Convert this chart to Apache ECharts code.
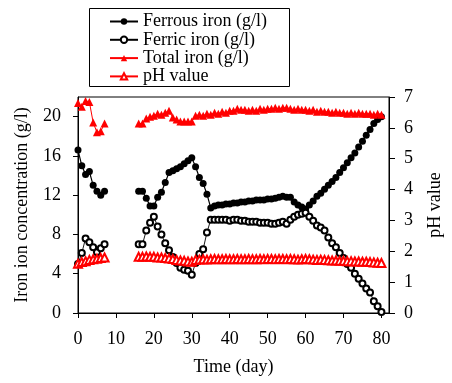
<!DOCTYPE html>
<html>
<head>
<meta charset="utf-8">
<script src="https://cdn.jsdelivr.net/npm/echarts@6/dist/echarts.min.js"></script>
<style>html,body{margin:0;padding:0;background:#fff}#c{width:452px;height:383px}</style>
</head>
<body>
<div id="c"></div>
<script>
const days = [0,1,2,3,4,5,6,7,
  16,17,18,19,20,21,22,23,24,25,26,27,28,29,30,
  31,32,33,34,35,36,37,38,39,40,41,42,43,44,45,46,47,48,49,50,
  51,52,53,54,55,56,57,58,59,60,61,62,63,64,65,66,67,68,69,70,
  71,72,73,74,75,76,77,78,79,80];
const ferrous = [16.6,15.0,14.1,14.4,13.0,12.4,12.0,12.4,
  12.4,12.4,11.7,10.9,10.9,11.8,12.3,13.3,14.3,14.5,14.7,14.9,15.2,15.5,15.8,
  14.9,13.8,13.2,12.1,10.7,10.9,11.0,11.0,11.1,11.1,11.2,11.2,11.3,11.3,11.4,11.4,11.5,11.5,11.5,11.6,
  11.6,11.7,11.8,11.9,11.8,11.8,11.3,11.0,10.8,10.6,11.0,11.4,11.9,12.2,12.6,13.0,13.4,13.8,14.3,14.8,
  15.3,15.8,16.3,16.9,17.5,18.1,18.7,19.3,19.7,20.0];
const ferric = [5.0,6.1,7.6,7.2,6.7,6.2,6.6,7.0,
  7.0,7.0,8.4,9.2,9.8,8.8,8.0,7.1,6.4,5.7,5.1,4.6,4.4,4.3,3.9,
  5.1,6.0,6.5,8.2,9.5,9.5,9.5,9.5,9.5,9.4,9.5,9.5,9.4,9.4,9.3,9.3,9.3,9.2,9.2,9.2,
  9.1,9.1,9.2,9.3,9.1,9.5,9.8,10.0,10.1,10.2,9.8,9.4,8.9,8.7,8.4,7.7,7.1,6.7,6.1,5.6,
  5.0,4.6,4.0,3.5,3.0,2.5,2.1,1.2,0.7,0.1];
const total = [21.4,21.0,21.6,21.5,19.4,18.4,18.5,19.3,
  19.3,19.3,19.8,20.0,20.1,20.3,20.2,20.4,20.6,19.9,19.7,19.5,19.5,19.5,19.5,
  20.1,20.2,20.1,20.3,20.2,20.4,20.3,20.5,20.4,20.6,20.6,20.8,20.7,20.7,20.6,20.7,20.6,20.8,20.7,20.8,
  20.8,20.9,20.8,20.9,20.9,20.8,20.7,20.8,20.7,20.7,20.6,20.7,20.5,20.6,20.5,20.5,20.4,20.5,20.4,20.4,
  20.3,20.4,20.3,20.4,20.3,20.3,20.3,20.2,20.3,20.2];
const ph = [1.60,1.65,1.68,1.72,1.74,1.76,1.78,1.80,
  1.82,1.82,1.83,1.82,1.82,1.80,1.80,1.78,1.77,1.75,1.72,1.70,1.69,1.67,1.66,
  1.72,1.73,1.74,1.73,1.74,1.75,1.74,1.74,1.75,1.74,1.74,1.75,1.74,1.74,1.75,1.74,1.74,1.75,1.74,1.75,
  1.75,1.74,1.75,1.75,1.74,1.75,1.74,1.73,1.74,1.75,1.74,1.73,1.72,1.73,1.72,1.71,1.70,1.70,1.69,1.69,
  1.68,1.68,1.67,1.67,1.66,1.66,1.65,1.64,1.63,1.62];
const xTicks = [0,10,20,30,40,50,60,70,80];
const yLeftTicks = [0,4,8,12,16,20];
const yRightTicks = [0,1,2,3,4,5,6,7];
const gapDay = 11.5;

function pairs(vals){
  const out = [];
  for (let i = 0; i < days.length; i++) {
    if (i > 0 && days[i] - days[i-1] > 1) out.push([gapDay, '-']);
    out.push([days[i], vals[i]]);
  }
  return out;
}

const FONT = '"Liberation Serif", "Times New Roman", serif';
const chart = echarts.init(document.getElementById('c'), null, {renderer:'canvas'});
const axisCommon = {
  axisLine:{show:true, lineStyle:{color:'#000', width:1}},
  axisTick:{show:true, inside:false, length:5, lineStyle:{color:'#000'}},
  splitLine:{show:false},
  axisLabel:{color:'#000', fontFamily:FONT, fontSize:18},
  nameTextStyle:{color:'#000', fontFamily:FONT, fontSize:18}
};
chart.setOption({
  animation:false,
  backgroundColor:'#fff',
  grid:{left:78, right:51, top:97, bottom:70, show:true, borderColor:'#000', borderWidth:1, backgroundColor:'transparent'},
  graphic:[{type:'rect', left:87, top:6, shape:{width:200, height:78}, style:{fill:'none', stroke:'#000', lineWidth:1}, z:100}],
  legend:{
    orient:'vertical', left:109, top:12.5, padding:0, itemGap:0.3,
    itemWidth:28, itemHeight:8,
    textStyle:{color:'#000', fontFamily:FONT, fontSize:18, lineHeight:18, padding:[0,0,0,0]},
    data:['Ferrous iron (g/l)','Ferric iron (g/l)','Total iron (g/l)','pH value']
  },
  xAxis:Object.assign({}, axisCommon, {
    type:'value', min:0, max:82, name:'Time (day)', nameLocation:'middle', nameGap:45,
    axisTick:Object.assign({}, axisCommon.axisTick, {customValues:xTicks}),
    axisLabel:Object.assign({}, axisCommon.axisLabel, {customValues:xTicks, margin:17})
  }),
  yAxis:[
    Object.assign({}, axisCommon, {
      type:'value', min:0, max:22, position:'left', name:'Iron ion concentration (g/l)', nameLocation:'middle', nameGap:47,
      axisTick:Object.assign({}, axisCommon.axisTick, {customValues:yLeftTicks}),
      axisLabel:Object.assign({}, axisCommon.axisLabel, {customValues:yLeftTicks, margin:17})
    }),
    Object.assign({}, axisCommon, {
      type:'value', min:0, max:7, interval:1, position:'right', name:'pH value', nameLocation:'middle', nameGap:37,
      axisTick:Object.assign({}, axisCommon.axisTick, {length:6, customValues:yRightTicks}),
      axisLabel:Object.assign({}, axisCommon.axisLabel, {customValues:yRightTicks, margin:15})
    })
  ],
  series:[
    {name:'Ferrous iron (g/l)', type:'line', yAxisIndex:0, data:pairs(ferrous), symbol:'circle', symbolSize:7,
      itemStyle:{color:'#000'}, lineStyle:{color:'#000', width:1.2}, connectNulls:false},
    {name:'Ferric iron (g/l)', type:'line', yAxisIndex:0, data:pairs(ferric), symbol:'emptyCircle', symbolSize:6,
      itemStyle:{color:'#000', borderColor:'#000', borderWidth:1}, lineStyle:{color:'#000', width:0.9}, connectNulls:false},
    {name:'Total iron (g/l)', type:'line', yAxisIndex:0, data:pairs(total), symbol:'triangle', symbolSize:8,
      itemStyle:{color:'#ff0000'}, lineStyle:{color:'#ff0000', width:1}, connectNulls:false},
    {name:'pH value', type:'line', yAxisIndex:1, data:pairs(ph), symbol:'emptyTriangle', symbolSize:8,
      itemStyle:{color:'#ff0000', borderColor:'#ff0000', borderWidth:1}, lineStyle:{color:'#ff0000', width:0.9}, connectNulls:false}
  ]
});
</script>
</body>
</html>
